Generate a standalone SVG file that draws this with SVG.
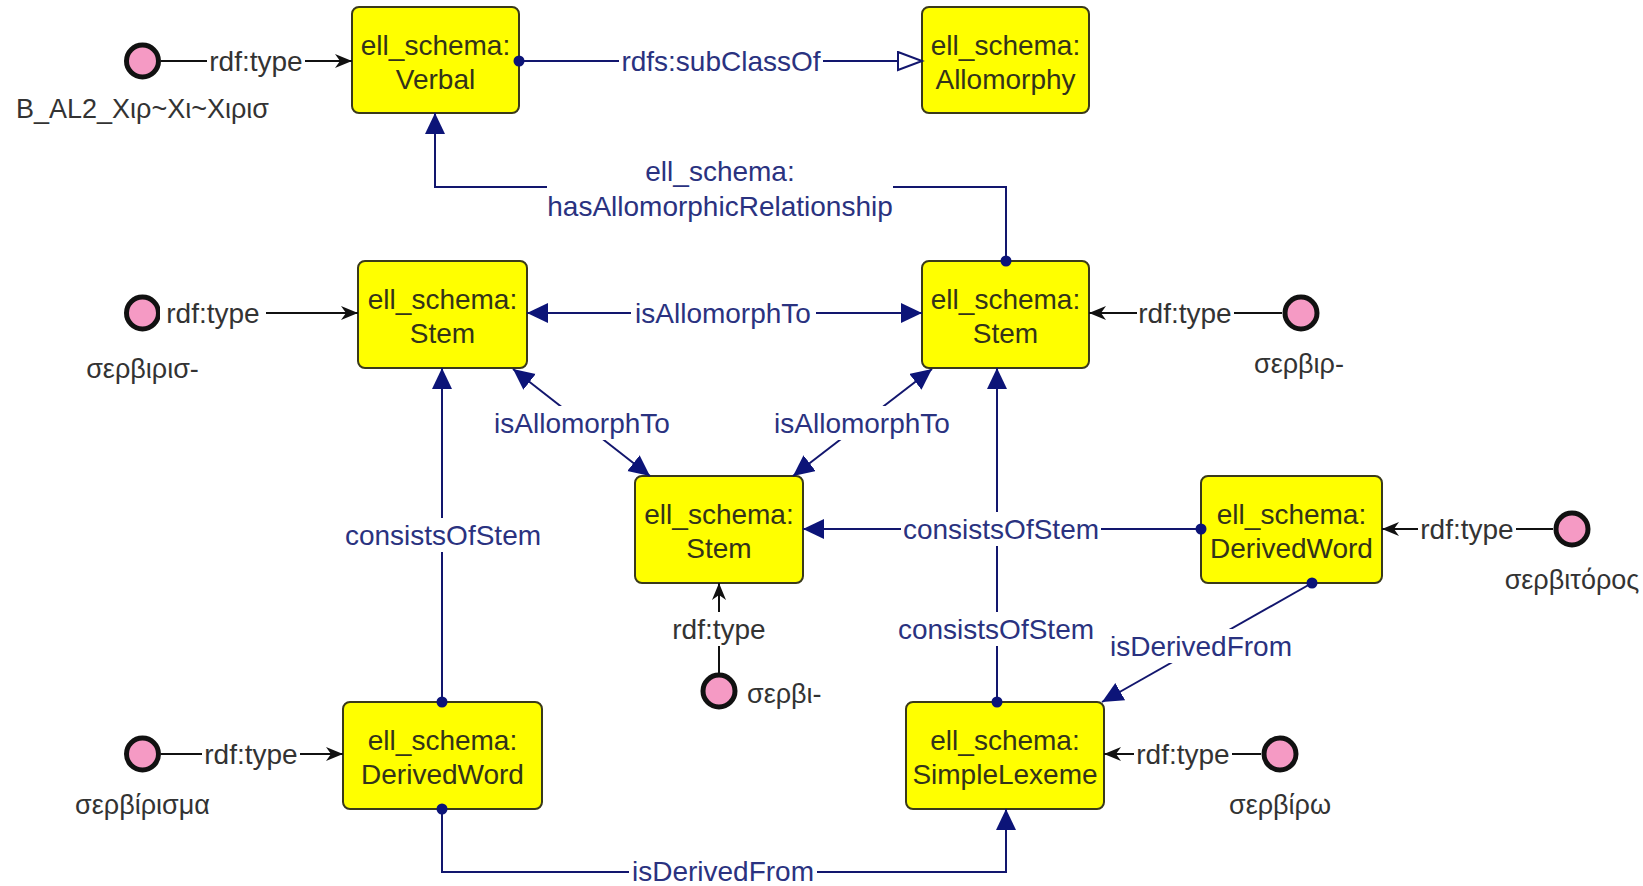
<svg xmlns="http://www.w3.org/2000/svg" width="1643" height="886" viewBox="0 0 1643 886">
  <style>
    text { font-family: "Liberation Sans", Arial, sans-serif; font-size: 28px; }
    .cls rect { fill: #ffff00; stroke: #3a3a1a; stroke-width: 2; }
    .cls text { fill: #33331a; text-anchor: middle; }
    .inst circle { fill: #f59ac4; stroke: #111; stroke-width: 5; }
    .inst text { fill: #333; font-size: 27px; }
    .rel { fill: none; stroke: #12166e; stroke-width: 2; }
    .typ { fill: none; stroke: #111; stroke-width: 2; }
    .lbl { fill: #2a3280; text-anchor: middle; }
    .tlbl { fill: #333; text-anchor: middle; }
    .bg { fill: #fff; }
    .dot { fill: #0c1478; }
  </style>
  <defs>
    <marker id="tri" markerUnits="userSpaceOnUse" markerWidth="22" markerHeight="22" refX="21" refY="10" orient="auto-start-reverse">
      <path d="M0,0 L21,10 L0,20 z" fill="#0c1478"/>
    </marker>
    <marker id="hollow" markerUnits="userSpaceOnUse" markerWidth="28" markerHeight="22" refX="25" refY="10" orient="auto">
      <path d="M1,1 L25,10 L1,19 z" fill="#fff" stroke="#12166e" stroke-width="2"/>
    </marker>
    <marker id="barb" markerUnits="userSpaceOnUse" markerWidth="18" markerHeight="16" refX="17" refY="7" orient="auto">
      <path d="M0,0 L17,7 L0,14 L5,7 z" fill="#111"/>
    </marker>
  </defs>
  <rect width="1643" height="886" fill="#fff"/>

  <!-- classes -->
  <g id="verbal" class="cls">
    <rect x="352" y="7" width="167" height="106" rx="7"/>
    <text x="435.5" y="55">ell_schema:</text>
    <text x="435.5" y="89">Verbal</text>
  </g>
  <g id="allomorphy" class="cls">
    <rect x="922" y="7" width="167" height="106" rx="7"/>
    <text x="1005.5" y="55">ell_schema:</text>
    <text x="1005.5" y="89">Allomorphy</text>
  </g>
  <g id="stem-left" class="cls">
    <rect x="358" y="261" width="169" height="107" rx="7"/>
    <text x="442.5" y="309">ell_schema:</text>
    <text x="442.5" y="343">Stem</text>
  </g>
  <g id="stem-right" class="cls">
    <rect x="922" y="261" width="167" height="107" rx="7"/>
    <text x="1005.5" y="309">ell_schema:</text>
    <text x="1005.5" y="343">Stem</text>
  </g>
  <g id="stem-center" class="cls">
    <rect x="635" y="476" width="168" height="107" rx="7"/>
    <text x="719" y="524">ell_schema:</text>
    <text x="719" y="558">Stem</text>
  </g>
  <g id="derived-word-right" class="cls">
    <rect x="1201" y="476" width="181" height="107" rx="7"/>
    <text x="1291.5" y="524">ell_schema:</text>
    <text x="1291.5" y="558">DerivedWord</text>
  </g>
  <g id="derived-word-left" class="cls">
    <rect x="343" y="702" width="199" height="107" rx="7"/>
    <text x="442.5" y="750">ell_schema:</text>
    <text x="442.5" y="784">DerivedWord</text>
  </g>
  <g id="simple-lexeme" class="cls">
    <rect x="906" y="702" width="198" height="107" rx="7"/>
    <text x="1005" y="750">ell_schema:</text>
    <text x="1005" y="784">SimpleLexeme</text>
  </g>

  <!-- individuals -->
  <g id="inst-b-al2" class="inst">
    <circle cx="142.5" cy="61" r="16"/>
    <text x="142.5" y="118" text-anchor="middle">B_AL2_Χιρ~Χι~Χιρισ</text>
  </g>
  <g id="inst-servirisx" class="inst">
    <circle cx="142.5" cy="313" r="16"/>
    <text x="142.5" y="378" text-anchor="middle">σερβιρισ-</text>
  </g>
  <g id="inst-servir" class="inst">
    <circle cx="1301" cy="313" r="16"/>
    <text x="1299" y="373" text-anchor="middle">σερβιρ-</text>
  </g>
  <g id="inst-servi" class="inst">
    <circle cx="719" cy="691" r="16"/>
    <text x="747" y="703">σερβι-</text>
  </g>
  <g id="inst-servitoros" class="inst">
    <circle cx="1572" cy="529" r="16"/>
    <text x="1572" y="589" text-anchor="middle">σερβιτόρος</text>
  </g>
  <g id="inst-serviro" class="inst">
    <circle cx="1280" cy="754" r="16"/>
    <text x="1280" y="814" text-anchor="middle">σερβίρω</text>
  </g>
  <g id="inst-servirisma" class="inst">
    <circle cx="142.5" cy="754" r="16"/>
    <text x="142.5" y="814" text-anchor="middle">σερβίρισμα</text>
  </g>

  <!-- connectors -->
  <g id="connectors">
    <!-- rdf:type links -->
    <line class="typ" x1="161" y1="61" x2="352" y2="61" marker-end="url(#barb)"/>
    <line class="typ" x1="161" y1="313" x2="358" y2="313" marker-end="url(#barb)"/>
    <line class="typ" x1="1282" y1="313" x2="1089" y2="313" marker-end="url(#barb)"/>
    <line class="typ" x1="719" y1="673" x2="719" y2="583" marker-end="url(#barb)"/>
    <line class="typ" x1="1553" y1="529" x2="1382" y2="529" marker-end="url(#barb)"/>
    <line class="typ" x1="1261" y1="754" x2="1104" y2="754" marker-end="url(#barb)"/>
    <line class="typ" x1="161" y1="754" x2="343" y2="754" marker-end="url(#barb)"/>

    <!-- object properties -->
    <line class="rel" x1="519" y1="61" x2="922" y2="61" marker-end="url(#hollow)"/>
    <path class="rel" d="M1006,261 V187 H435 V113" marker-end="url(#tri)"/>
    <line class="rel" x1="527" y1="313" x2="922" y2="313" marker-start="url(#tri)" marker-end="url(#tri)"/>
    <line class="rel" x1="513" y1="369" x2="650" y2="476" marker-start="url(#tri)" marker-end="url(#tri)"/>
    <line class="rel" x1="932" y1="369" x2="793" y2="476" marker-start="url(#tri)" marker-end="url(#tri)"/>
    <line class="rel" x1="442" y1="702" x2="442" y2="368" marker-end="url(#tri)"/>
    <line class="rel" x1="1201" y1="529" x2="803" y2="529" marker-end="url(#tri)"/>
    <line class="rel" x1="997" y1="702" x2="997" y2="368" marker-end="url(#tri)"/>
    <line class="rel" x1="1312" y1="583" x2="1102" y2="702" marker-end="url(#tri)"/>
    <path class="rel" d="M442,809 V872 H1006 V809" marker-end="url(#tri)"/>

    <!-- source dots -->
    <circle class="dot" cx="519" cy="61" r="5.5"/>
    <circle class="dot" cx="1006" cy="261" r="5.5"/>
    <circle class="dot" cx="442" cy="702" r="5.5"/>
    <circle class="dot" cx="1201" cy="529" r="5.5"/>
    <circle class="dot" cx="997" cy="702" r="5.5"/>
    <circle class="dot" cx="1312" cy="583" r="5.5"/>
    <circle class="dot" cx="442" cy="809" r="5.5"/>

    <!-- label backgrounds -->
    <rect class="bg" x="207" y="45" width="98" height="34"/>
    <rect class="bg" x="160" y="297" width="106" height="34"/>
    <rect class="bg" x="1137" y="297" width="97" height="34"/>
    <rect class="bg" x="670" y="612" width="98" height="34"/>
    <rect class="bg" x="1418" y="513" width="98" height="34"/>
    <rect class="bg" x="1134" y="738" width="98" height="34"/>
    <rect class="bg" x="202" y="738" width="98" height="34"/>
    <rect class="bg" x="619" y="45" width="204" height="34"/>
    <rect class="bg" x="547" y="150" width="346" height="78"/>
    <rect class="bg" x="631" y="297" width="185" height="34"/>
    <rect class="bg" x="490" y="406" width="184" height="34"/>
    <rect class="bg" x="770" y="406" width="184" height="34"/>
    <rect class="bg" x="344" y="518" width="198" height="34"/>
    <rect class="bg" x="901" y="512" width="200" height="34"/>
    <rect class="bg" x="896" y="612" width="200" height="34"/>
    <rect class="bg" x="1108" y="629" width="186" height="34"/>
    <rect class="bg" x="629" y="856" width="188" height="30"/>

    <!-- labels -->
    <text class="tlbl" x="256" y="71">rdf:type</text>
    <text class="tlbl" x="213" y="323">rdf:type</text>
    <text class="tlbl" x="1185" y="323">rdf:type</text>
    <text class="tlbl" x="719" y="639">rdf:type</text>
    <text class="tlbl" x="1467" y="539">rdf:type</text>
    <text class="tlbl" x="1183" y="764">rdf:type</text>
    <text class="tlbl" x="251" y="764">rdf:type</text>
    <text class="lbl" x="721" y="71">rdfs:subClassOf</text>
    <text class="lbl" x="720" y="181">ell_schema:</text>
    <text class="lbl" x="720" y="216">hasAllomorphicRelationship</text>
    <text class="lbl" x="723" y="323">isAllomorphTo</text>
    <text class="lbl" x="582" y="433">isAllomorphTo</text>
    <text class="lbl" x="862" y="433">isAllomorphTo</text>
    <text class="lbl" x="443" y="545">consistsOfStem</text>
    <text class="lbl" x="1001" y="539">consistsOfStem</text>
    <text class="lbl" x="996" y="639">consistsOfStem</text>
    <text class="lbl" x="1201" y="656">isDerivedFrom</text>
    <text class="lbl" x="723" y="881">isDerivedFrom</text>
  </g>
</svg>
